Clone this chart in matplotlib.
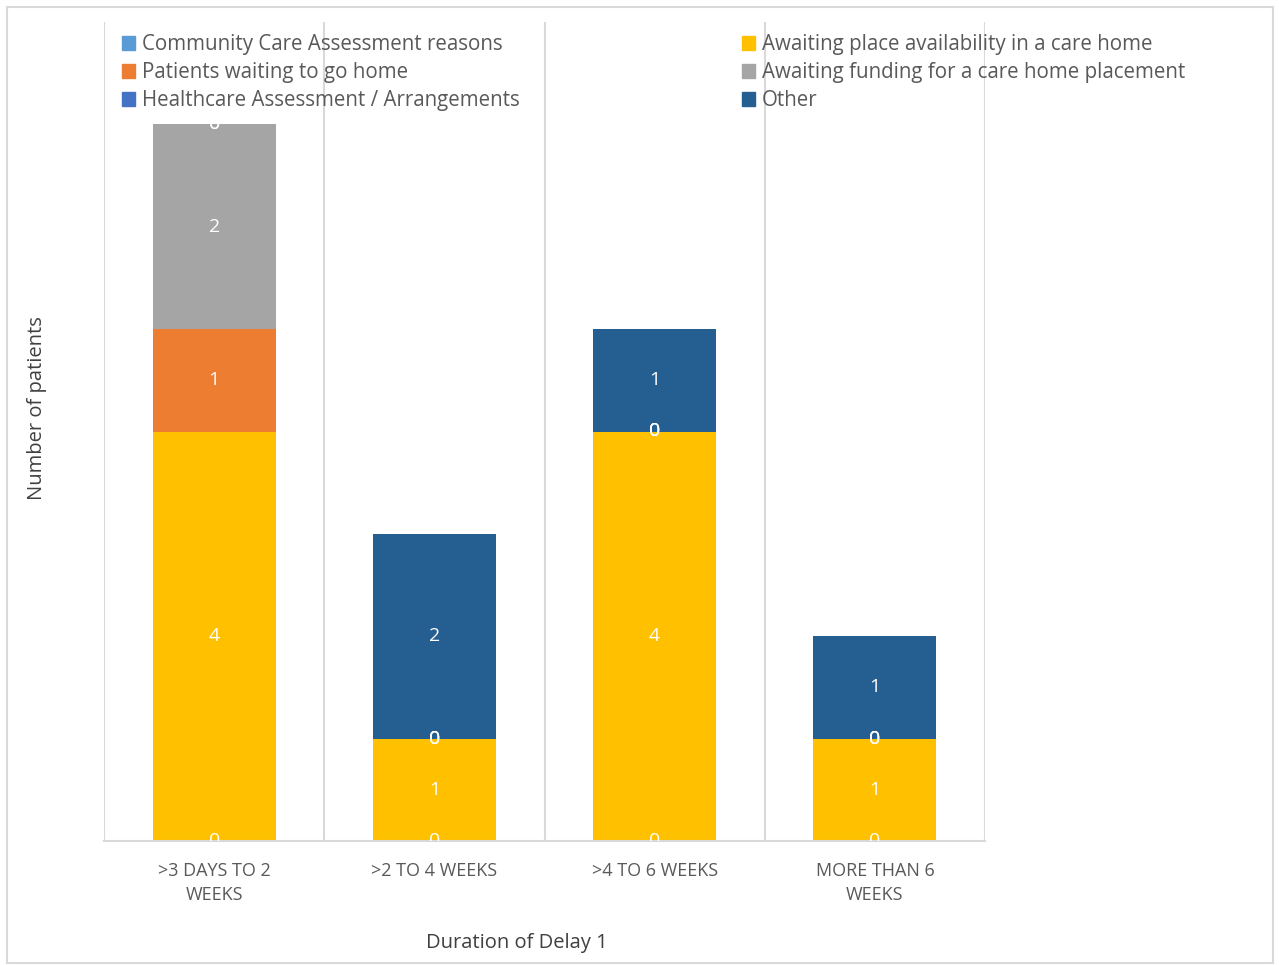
import matplotlib.pyplot as plt
from matplotlib.patches import Patch, Rectangle
from matplotlib.transforms import Bbox, TransformedBbox

plt.rcParams['font.family'] = ['Open Sans', 'DejaVu Sans']

categories = ['>3 DAYS TO 2\nWEEKS', '>2 TO 4 WEEKS', '>4 TO 6 WEEKS', 'MORE THAN 6\nWEEKS']
series_names = ['Community Care Assessment reasons',
                'Awaiting place availability in a care home',
                'Patients waiting to go home',
                'Awaiting funding for a care home placement',
                'Healthcare Assessment / Arrangements',
                'Other']
community_care = [0, 0, 0, 0]
awaiting_place = [4, 1, 4, 1]
waiting_home = [1, 0, 0, 0]
awaiting_funding = [2, 0, 0, 0]
healthcare = [0, 0, 0, 0]
other = [0, 2, 1, 1]
colors = ['#5B9BD5', '#FFC000', '#ED7D31', '#A5A5A5', '#4472C4', '#255E91']

series = [community_care, awaiting_place, waiting_home, awaiting_funding, healthcare, other]

fig = plt.figure(figsize=(12.79, 9.65), dpi=100)
ax = fig.add_axes([104/1279, 1 - 841/965, (985-104)/1279, (841-22)/965])

x = range(len(categories))
bottom = [0]*len(categories)
containers = []
for vals, col, name in zip(series, colors, series_names):
    c = ax.bar(x, vals, 0.558, bottom=bottom, color=col, label=name, zorder=2)
    containers.append(c)
    bottom = [b + v for b, v in zip(bottom, vals)]

# Excel clips the data labels to the tallest stack
top = max(bottom)
clip = TransformedBbox(Bbox([[-0.5, 0], [3.5, top]]), ax.transData)
for c in containers:
    texts = ax.bar_label(c, label_type='center', color='white', fontsize=14)
    for t in texts:
        t.set_clip_box(clip)
        t.set_clip_on(True)

ax.set_xlim(-0.5, 3.5)
ax.set_ylim(0, 8)
for b in [-0.5, 0.5, 1.5, 2.5, 3.5]:
    ax.axvline(b, color='#D9D9D9', lw=1.5, zorder=1)
for s in ['top', 'left', 'right']:
    ax.spines[s].set_visible(False)
ax.spines['bottom'].set_color('#D9D9D9')
ax.spines['bottom'].set_linewidth(1.5)
ax.set_yticks([])
ax.set_xticks(list(x))
ax.set_xticklabels(categories, color='#595959', fontsize=13, linespacing=1.45)
ax.tick_params(axis='x', length=0, pad=15)

lkw = dict(bbox_transform=fig.transFigure, frameon=False, fontsize=14.8,
           handlelength=0.65, handleheight=0.65, handletextpad=0.3,
           labelspacing=0.34, labelcolor='#595959', borderpad=0, borderaxespad=0,
           loc='upper left')
handles = [Patch(color=c) for c in colors]
leg1 = ax.legend([handles[0], handles[2], handles[4]],
                 [series_names[0], series_names[2], series_names[4]],
                 bbox_to_anchor=(122/1279, 1 - 34/965), **lkw)
ax.add_artist(leg1)
ax.legend([handles[1], handles[3], handles[5]],
          [series_names[1], series_names[3], series_names[5]],
          bbox_to_anchor=(742/1279, 1 - 34/965), **lkw)

fig.text(37/1279, 1 - 408/965, 'Number of patients', rotation=90,
         ha='center', va='center', fontsize=14.5, color='#404040')
fig.text(517/1279, 1 - 943/965, 'Duration of Delay 1',
         ha='center', va='center', fontsize=14.5, color='#404040')

fig.patches.append(Rectangle((7/1279, 2/965), 1266/1279, 956/965,
                             transform=fig.transFigure, fill=False,
                             edgecolor='#D9D9D9', lw=1.5))

fig.savefig('out.png', dpi=100)
